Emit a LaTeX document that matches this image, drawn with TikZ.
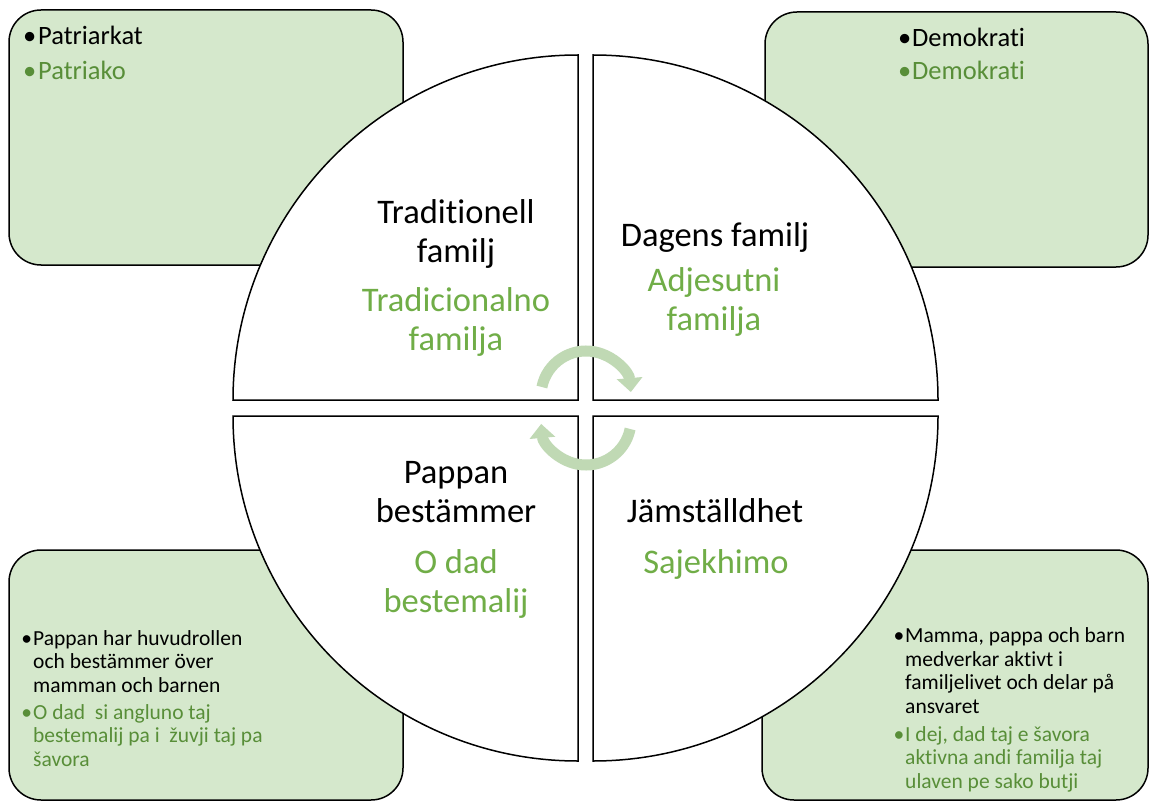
\documentclass[tikz,border=0pt]{standalone}
\usepackage{fontspec}
\setmainfont{Carlito}[Ligatures=NoCommon]
\usepackage{tikz}
\usetikzlibrary{arrows.meta}
\definecolor{boxfill}{RGB}{213,232,204}
\definecolor{titlegreen}{RGB}{112,173,71}
\definecolor{notegreen}{RGB}{88,142,56}
\definecolor{cyclegreen}{RGB}{192,217,180}
\tikzset{
    notebox/.style = {
        draw,
        fill=boxfill,
        line width=1.5pt,
        rounded corners=32pt
    },
    quarter/.style = {
        draw,
        fill=white,
        line width=1.5pt
    },
    quadtitle/.style = {
        anchor=base,
        align=center,
        inner sep=0pt,
        font=\fontsize{34.5}{38.5}\selectfont
    },
    quadsub/.style = {
        quadtitle,
        text=titlegreen
    },
    topnote/.style = {
        anchor=base west,
        align=left,
        inner sep=0pt,
        font=\fontsize{26.5}{35}\selectfont
    },
    lownote/.style = {
        topnote,
        font=\fontsize{21.5}{23.5}\selectfont
    },
    cyclearrow/.style = {
        draw=cyclegreen,
        line width=11pt,
        -{Triangle[width=25pt,length=14pt]}
    },
}
\begin{document}
\begin{tikzpicture}[x=1pt,y=1pt]
                \useasboundingbox (0,0) rectangle (1150,-802);

                % corner boxes
                \draw[notebox] (9,-10) rectangle (403,-265);
                \draw[notebox] (765,-12) rectangle (1148,-267);
                \draw[notebox] (9,-550) rectangle (403,-800);
                \draw[notebox] (762,-550) rectangle (1148,-800);

                % the four quarters
                \draw[quarter] (578,-400) -- (233,-400) arc[start angle=180, end angle=90, radius=345] -- cycle;
                \draw[quarter] (593,-400) -- (593,-55) arc[start angle=90, end angle=0, radius=345] -- cycle;
                \draw[quarter] (578,-416) -- (233,-416) arc[start angle=180, end angle=270, radius=345] -- cycle;
                \draw[quarter] (593,-416) -- (938,-416) arc[start angle=0, end angle=-90, radius=345] -- cycle;

                % cycle arrows
                \draw[cyclearrow] (586,-396) ++(168.5:45) arc[start angle=168.5, end angle=5, radius=45];
                \draw[cyclearrow] (586,-420) ++(-11.5:45) arc[start angle=-11.5, end angle=-175, radius=45];

                % quarter texts (base = last line)
                \node[quadtitle] (tradsv) at (456,-262) {Traditionell\\familj};
                \node[quadsub] (tradrom) at (456,-350) {Tradicionalno\\familja};
                \node[quadtitle] (dagsv) at (715,-247) {Dagens familj};
                \node[quadsub] (dagrom) at (714,-330) {Adjesutni\\familja};
                \node[quadtitle] (papsv) at (456,-522) {Pappan\\bestämmer};
                \node[quadsub] (paprom) at (456,-612) {O dad\\bestemalij};
                \node[quadtitle] (jamsv) at (715,-522) {Jämställdhet};
                \node[quadsub] (jamrom) at (716,-573) {Sajekhimo};

                % box texts
                \node[topnote] (patsv) at (38,-45) {\llap{•\hspace{2pt}}Patriarkat};
                \node[topnote, text=notegreen] (patrom) at (38,-80) {\llap{•\hspace{2pt}}Patriako};
                \node[topnote] (demsv) at (912,-47) {\llap{•\hspace{1pt}}Demokrati};
                \node[topnote, text=notegreen] (demrom) at (912,-80) {\llap{•\hspace{1pt}}Demokrati};
                \node[lownote] (bossv) at (33,-692) {\llap{•\hspace{1pt}}Pappan har huvudrollen\\och bestämmer över\\mamman och barnen};
                \node[lownote, text=notegreen] (bosrom) at (33,-766) {\llap{•\hspace{1pt}}O dad\ \ si angluno taj\\bestemalij pa i\ \ žuvji taj pa\\šavora};
                \node[lownote] (delsv) at (905,-713) {\llap{•\hspace{1pt}}Mamma, pappa och barn\\medverkar aktivt i\\familjelivet och delar på\\ansvaret};
                \node[lownote, text=notegreen] (delrom) at (905,-788) {\llap{•\hspace{1pt}}I dej, dad taj e šavora\\aktivna andi familja taj\\ulaven pe sako butji};
\end{tikzpicture}
\end{document}
